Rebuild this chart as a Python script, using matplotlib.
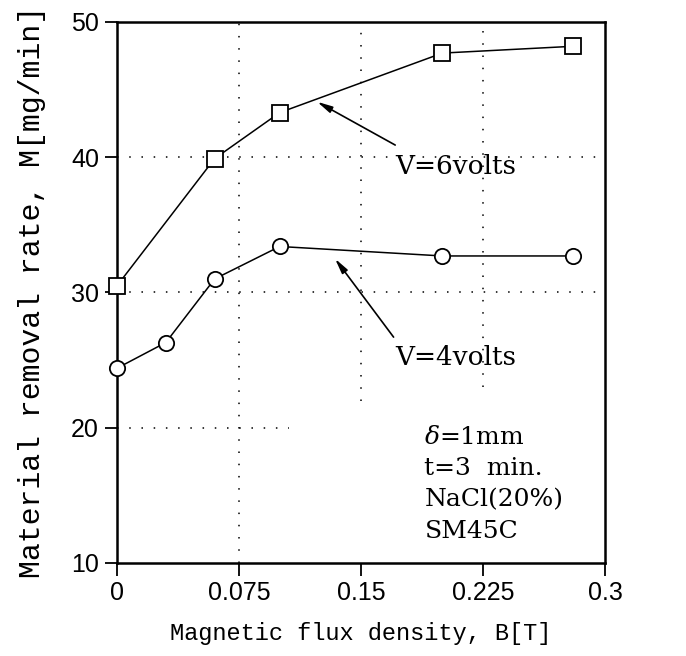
import matplotlib
matplotlib.use("Agg")
import matplotlib.pyplot as plt

# Material removal rate vs magnetic flux density
B_6v = [0.0, 0.06, 0.10, 0.20, 0.28]
M_6v = [30.5, 39.9, 43.3, 47.7, 48.2]

B_4v = [0.0, 0.03, 0.06, 0.10, 0.20, 0.28]
M_4v = [24.4, 26.3, 31.0, 33.4, 32.7, 32.7]

xticks = [0, 0.075, 0.15, 0.225, 0.3]
xtick_labels = ["0", "0.075", "0.15", "0.225", "0.3"]
yticks = [10, 20, 30, 40, 50]

plt.rcParams['mathtext.fontset'] = 'dejavuserif'

fig = plt.figure(figsize=(6.86, 6.56), dpi=100)
ax = fig.add_axes([0.1706, 0.1418, 0.7114, 0.8247])

ax.plot(B_6v, M_6v, 'k-', marker='s', ms=11, mfc='white', mew=1.3, lw=1.1, clip_on=False, zorder=3)
ax.plot(B_4v, M_4v, 'k-', marker='o', ms=11, mfc='white', mew=1.3, lw=1.1, clip_on=False, zorder=3)

ax.set_xlim(0, 0.3)
ax.set_ylim(10, 50)
ax.set_xticks(xticks)
ax.set_xticklabels(xtick_labels)
ax.set_yticks(yticks)
ax.tick_params(direction='out', length=9, width=1.3, labelsize=18, pad=4)
for lab in ax.get_xticklabels() + ax.get_yticklabels():
    lab.set_family(['Liberation Sans Narrow', 'Liberation Sans'])
for s in ax.spines.values():
    s.set_linewidth(1.8)

# broken dotted grid like the original plotter output
dots = dict(color='k', lw=1.1, linestyle=(0, (1, 7)), zorder=1)
ax.hlines([40, 30], 0, 0.3, **dots)
ax.hlines(20, 0, 0.106, **dots)
ax.vlines(0.075, 10, 50, **dots)
ax.vlines([0.15, 0.225], [22, 23], 50, **dots)

ax.set_xlabel("Magnetic flux density, B[T]", family='Liberation Mono', fontsize=17, labelpad=12)
ax.set_ylabel("Material removal rate, M[mg/min]", family='Liberation Mono', fontsize=21.5, labelpad=18)

arrow = dict(arrowstyle='-|>,head_length=0.9,head_width=0.2', color='k', lw=1.2, shrinkA=0, shrinkB=0)
ax.annotate("", xy=(0.123, 44.1), xytext=(0.171, 40.9), arrowprops=arrow)
ax.text(0.208, 39.3, "V=6volts", ha='center', va='center', family='DejaVu Serif', fontsize=19)
ax.annotate("", xy=(0.134, 32.5), xytext=(0.170, 26.7), arrowprops=arrow)
ax.text(0.208, 25.2, "V=4volts", ha='center', va='center', family='DejaVu Serif', fontsize=19)

ax.text(0.189, 20.1, "$\\delta$=1mm\nt=3  min.\nNaCl(20%)\nSM45C", ha='left', va='top',
        family='DejaVu Serif', fontsize=18, linespacing=1.45)

fig.savefig("out.png", dpi=100)
